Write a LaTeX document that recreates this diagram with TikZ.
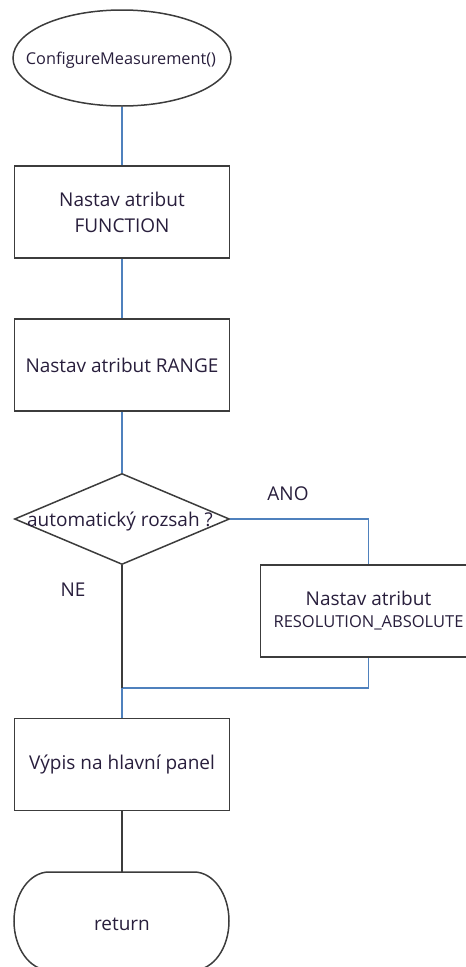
\documentclass[tikz,border=0pt]{standalone}
\usepackage{fontspec}
\setmainfont{Open Sans}
\usetikzlibrary{shapes.geometric}
\definecolor{lnblue}{RGB}{79,129,189}
\definecolor{edge}{RGB}{60,60,60}
\definecolor{txt}{RGB}{40,30,60}
\begin{document}
\begin{tikzpicture}[x=1pt,y=-1pt,
  shp/.style={draw=edge,line width=1.5pt,inner sep=0pt,text=txt,font=\fontsize{19}{26}\selectfont,align=center},
  boxs/.style={shp,rectangle,minimum width=215pt,minimum height=92pt},
  bl/.style={draw=lnblue,line width=1.6pt},
  bk/.style={draw=edge,line width=1.6pt},
  lbl/.style={text=txt,font=\fontsize{19}{26}\selectfont,inner sep=0pt}]
\useasboundingbox (0,0) rectangle (466,967);
\node[shp,ellipse,minimum width=218pt,minimum height=96pt] (start) at (122,58) {};
\node[lbl,font=\fontsize{16.3}{20}\selectfont] (startt) at (121,60) {ConfigureMeasurement()};
\node[boxs] (b1) at (122,212) {Nastav atribut\\FUNCTION};
\node[boxs] (b2) at (122,365) {Nastav atribut RANGE};
\node[shp,diamond,minimum width=215pt,minimum height=91pt,aspect=2.36] (dec) at (122,519) {};
\node[lbl] (dect) at (120,521) {automatický rozsah ?};
\node[boxs,minimum width=216pt] (b3) at (368.5,611) {Nastav atribut\\[-4pt]{\fontsize{16.5}{20}\selectfont RESOLUTION\_ABSOLUTE}};
\node[boxs] (b4) at (122,764.5) {Výpis na hlavní panel};
\node[lbl] (ret) at (122,924) {return};
\draw[shp] (49,872) -- (194,872) arc[start angle=-90,end angle=90,x radius=35,y radius=49] -- (49,970) arc[start angle=90,end angle=270,x radius=35,y radius=49] -- cycle;
\coordinate (retTop) at (122,872);
\coordinate (merge) at (122,688);
\coordinate (corner1) at (368.5,519);
\coordinate (corner2) at (368.5,688);
\node[lbl] (ano) at (288,494) {ANO};
\node[lbl] (ne) at (73,590) {NE};
\draw[bl] (start.south) -- (b1.north);
\draw[bl] (b1.south) -- (b2.north);
\draw[bl] (b2.south) -- (dec.north);
\draw[bl] (dec.east) -- (corner1) -- (b3.north);
\draw[bl] (b3.south) -- (corner2) -- (merge);
\draw[bk] (dec.south) -- (merge);
\draw[bl] (merge) -- (b4.north);
\draw[bk] (b4.south) -- (retTop);
\end{tikzpicture}
\end{document}
